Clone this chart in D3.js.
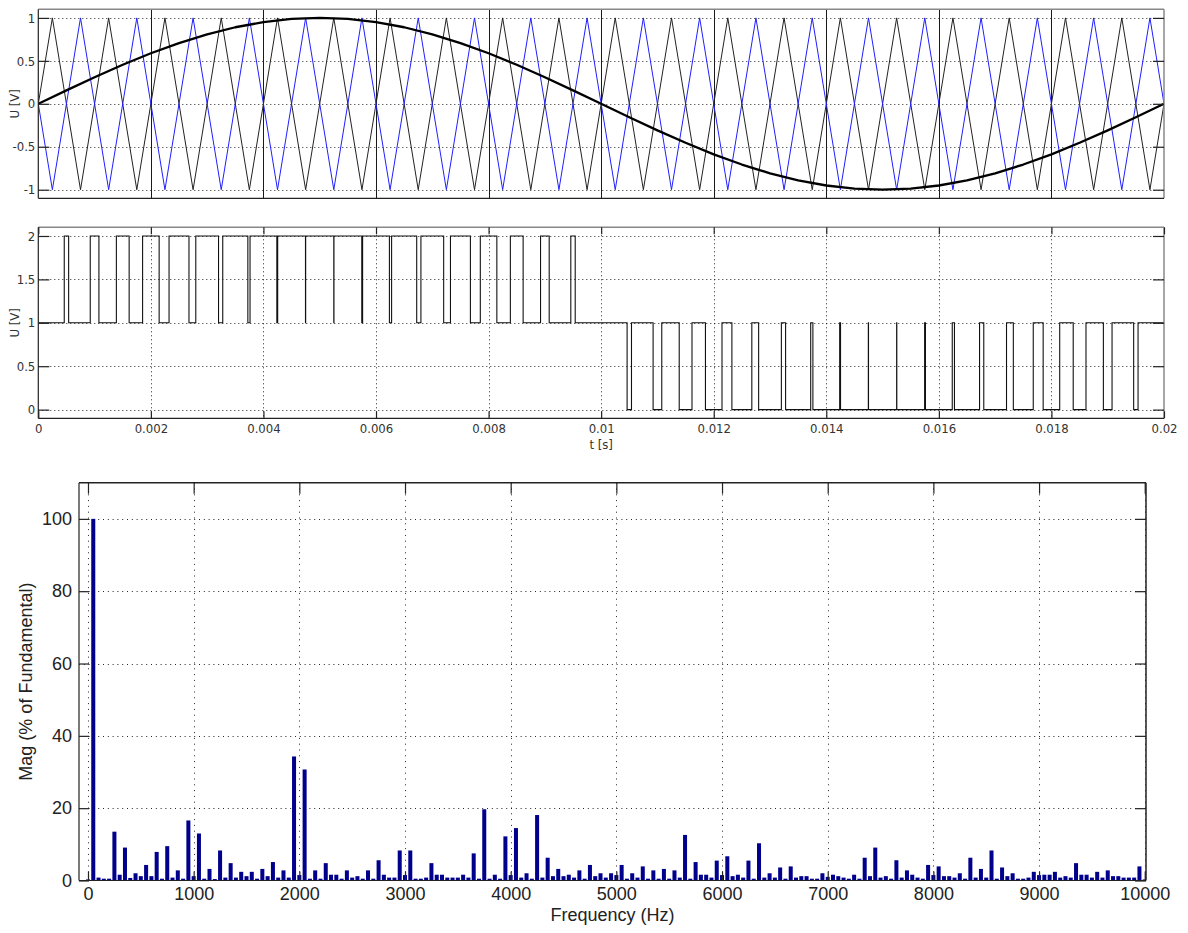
<!DOCTYPE html>
<html>
<head>
<meta charset="utf-8">
<script src="https://cdn.jsdelivr.net/npm/d3@7"></script>
<style>
  body { margin: 0; background: #fff; }
  svg { display: block; }
  .sm text { font-family: "Liberation Sans Narrow", "Arial Narrow", "DejaVu Sans Condensed", sans-serif; font-size: 13px; fill: #333; }
  .lg text { font-family: "Liberation Sans", Arial, Helvetica, sans-serif; font-size: 18px; fill: #222; }
</style>
</head>
<body>
<svg id="chart" width="1188" height="933"></svg>
<script>
// ---------- time-domain data (one period of 50 Hz, 1 kHz carriers) ----------
const timeLimits = [0, 0.02];
const timeTicks = [0, 0.002, 0.004, 0.006, 0.008, 0.01, 0.012, 0.014, 0.016, 0.018, 0.02];
const timeTickLabels = ["0", "0.002", "0.004", "0.006", "0.008", "0.01", "0.012", "0.014", "0.016", "0.018", "0.02"];

// reference signal samples
const sineTimes = [0, 0.0005, 0.001, 0.0015, 0.002, 0.0025, 0.003, 0.0035, 0.004, 0.0045,
  0.005, 0.0055, 0.006, 0.0065, 0.007, 0.0075, 0.008, 0.0085, 0.009, 0.0095,
  0.01, 0.0105, 0.011, 0.0115, 0.012, 0.0125, 0.013, 0.0135, 0.014, 0.0145,
  0.015, 0.0155, 0.016, 0.0165, 0.017, 0.0175, 0.018, 0.0185, 0.019, 0.0195, 0.02];
const sineValues = [0, 0.156, 0.309, 0.454, 0.588, 0.707, 0.809, 0.891, 0.951, 0.988,
  1, 0.988, 0.951, 0.891, 0.809, 0.707, 0.588, 0.454, 0.309, 0.156,
  0, -0.156, -0.309, -0.454, -0.588, -0.707, -0.809, -0.891, -0.951, -0.988,
  -1, -0.988, -0.951, -0.891, -0.809, -0.707, -0.588, -0.454, -0.309, -0.156, 0];

// triangular carriers: vertex times and levels
const carrierTimes = [0, 0.00025, 0.00075, 0.00125, 0.00175, 0.00225, 0.00275, 0.00325, 0.00375, 0.00425,
  0.00475, 0.00525, 0.00575, 0.00625, 0.00675, 0.00725, 0.00775, 0.00825, 0.00875, 0.00925,
  0.00975, 0.01025, 0.01075, 0.01125, 0.01175, 0.01225, 0.01275, 0.01325, 0.01375, 0.01425,
  0.01475, 0.01525, 0.01575, 0.01625, 0.01675, 0.01725, 0.01775, 0.01825, 0.01875, 0.01925,
  0.01975, 0.02];
const carrierBlack = [0, 1, -1, 1, -1, 1, -1, 1, -1, 1, -1, 1, -1, 1, -1, 1, -1, 1, -1, 1, -1,
  1, -1, 1, -1, 1, -1, 1, -1, 1, -1, 1, -1, 1, -1, 1, -1, 1, -1, 1, -1, 0];
const carrierBlue = [0, -1, 1, -1, 1, -1, 1, -1, 1, -1, 1, -1, 1, -1, 1, -1, 1, -1, 1, -1, 1,
  -1, 1, -1, 1, -1, 1, -1, 1, -1, 1, -1, 1, -1, 1, -1, 1, -1, 1, -1, 1, 0];

// inverter output: pulses away from the mid level 1 V
const outputBase = 1;
const pulseStart = [0.000461, 0.000923, 0.001387, 0.001853, 0.002323, 0.002798, 0.003277, 0.003762, 0.004253, 0.00475,
  0.005253, 0.005762, 0.006277, 0.006798, 0.007323, 0.007853, 0.008387, 0.008923, 0.009461,
  0.010461, 0.010923, 0.011387, 0.011853, 0.012323, 0.012798, 0.013277, 0.013762, 0.014253, 0.01475,
  0.015253, 0.015762, 0.016277, 0.016798, 0.017323, 0.017853, 0.018387, 0.018923, 0.019461];
const pulseEnd = [0.000539, 0.001077, 0.001614, 0.002147, 0.002677, 0.003202, 0.003723, 0.004238, 0.004747, 0.00525,
  0.005747, 0.006238, 0.006723, 0.007202, 0.007677, 0.008147, 0.008614, 0.009077, 0.009539,
  0.010539, 0.011077, 0.011614, 0.012147, 0.012677, 0.013202, 0.013723, 0.014238, 0.014747, 0.01525,
  0.015747, 0.016238, 0.016723, 0.017202, 0.017677, 0.018147, 0.018614, 0.019077, 0.019539];
const pulseLevel = [2, 2, 2, 2, 2, 2, 2, 2, 2, 2, 2, 2, 2, 2, 2, 2, 2, 2, 2,
  0, 0, 0, 0, 0, 0, 0, 0, 0, 0, 0, 0, 0, 0, 0, 0, 0, 0, 0];

const topTicks = [-1, -0.5, 0, 0.5, 1];
const midTicks = [0, 0.5, 1, 1.5, 2];

// ---------- harmonic spectrum (50 Hz steps, 0 .. 10 kHz) ----------
const harmonicStep = 50;
const magnitudes = [
  0.3, 100, 0.8, 0.5, 0.5, 13.5, 1.6, 9.1, 0.7, 2.0,
  1.2, 4.3, 1.2, 7.9, 0.5, 9.5, 0.8, 2.8, 0.5, 16.6,
  1.2, 13.0, 0.5, 3.2, 0.4, 8.3, 0.8, 4.8, 0.8, 2.4,
  1.2, 2.4, 0.5, 3.2, 1.2, 5.1, 0.8, 2.8, 0.8, 34.3,
  1.5, 30.7, 0.5, 2.8, 0.5, 4.8, 1.6, 1.6, 0.5, 2.8,
  0.8, 1.2, 0.5, 2.8, 0.5, 5.6, 1.6, 0.8, 0.8, 8.3,
  1.5, 8.3, 0.5, 0.5, 0.8, 4.8, 1.6, 1.6, 0.8, 0.8,
  0.8, 1.6, 0.8, 7.5, 0.5, 19.7, 0.5, 1.6, 0.5, 12.2,
  1.5, 14.5, 0.8, 2.0, 0.5, 18.1, 0.8, 6.3, 1.2, 3.2,
  1.2, 1.6, 0.8, 2.8, 0.5, 4.3, 1.2, 2.0, 0.8, 2.0,
  1.5, 4.3, 0.5, 2.0, 0.8, 3.9, 0.5, 2.8, 0.5, 3.2,
  0.5, 2.8, 0.8, 12.6, 0.5, 5.1, 1.6, 1.6, 0.8, 5.5,
  1.5, 6.7, 1.2, 1.6, 0.8, 5.5, 0.5, 10.3, 0.8, 2.0,
  0.8, 3.6, 0.5, 3.9, 0.8, 1.2, 1.2, 0.5, 0.5, 2.0,
  1.0, 1.6, 1.2, 0.8, 0.5, 1.6, 0.5, 6.3, 1.2, 9.1,
  0.8, 1.2, 0.5, 5.6, 0.8, 2.8, 1.6, 0.8, 0.5, 4.3,
  1.5, 3.9, 1.2, 1.2, 0.8, 2.0, 0.5, 6.3, 0.8, 3.2,
  0.8, 8.3, 0.5, 3.6, 1.2, 2.0, 0.5, 0.5, 0.8, 2.4,
  1.5, 1.6, 1.6, 2.4, 0.8, 1.2, 0.8, 4.8, 1.6, 1.6,
  0.8, 2.4, 0.8, 2.8, 1.2, 1.2, 0.8, 0.8, 0.8, 3.9,
  0.3];
const freqTicks = [0, 1000, 2000, 3000, 4000, 5000, 6000, 7000, 8000, 9000, 10000];
const magTicks = [0, 20, 40, 60, 80, 100];

// ---------- layout ----------
const P1 = { l: 38.3, r: 1164, t: 9.3, b: 198.3 };
const P2 = { l: 38.3, r: 1164, t: 227.3, b: 418.3 };
const P3 = { l: 79, r: 1146, t: 482.7, b: 880.5 };

const svg = d3.select("#chart");
const defs = svg.append("defs");
[["c1", P1], ["c2", P2], ["c3", P3]].forEach(([id, p]) => {
  defs.append("clipPath").attr("id", id).append("rect")
    .attr("x", p.l).attr("y", p.t).attr("width", p.r - p.l).attr("height", p.b - p.t);
});

const x1 = d3.scaleLinear().domain(timeLimits).range([P1.l, P1.r]);
const y1 = d3.scaleLinear().domain([-1.1, 1.1]).range([P1.b, P1.t]);
const x2 = d3.scaleLinear().domain(timeLimits).range([P2.l, P2.r]);
const y2 = d3.scaleLinear().domain([-0.1, 2.1]).range([P2.b, P2.t]);
const xF = d3.scaleLinear().domain([-85, 10012]).range([P3.l, P3.r]);
const yM = d3.scaleLinear().domain([0, 110]).range([P3.b, P3.t]);

function frame(p, light) {
  const g = svg.append("g").attr("fill", "none");
  g.append("line").attr("x1", p.l).attr("x2", p.r).attr("y1", p.t).attr("y2", p.t)
    .attr("stroke", light).attr("stroke-width", 1.5);
  g.append("line").attr("x1", p.r).attr("x2", p.r).attr("y1", p.t).attr("y2", p.b)
    .attr("stroke", light).attr("stroke-width", 1.5);
  g.append("line").attr("x1", p.l).attr("x2", p.r).attr("y1", p.b).attr("y2", p.b)
    .attr("stroke", "#222").attr("stroke-width", 1.2);
  g.append("line").attr("x1", p.l).attr("x2", p.l).attr("y1", p.t).attr("y2", p.b)
    .attr("stroke", "#222").attr("stroke-width", 1.2);
}

function hGrid(p, yS, vals, dash) {
  svg.append("g").selectAll("line").data(vals).join("line")
    .attr("x1", p.l).attr("x2", p.r)
    .attr("y1", d => Math.round(yS(d)) + 0.5).attr("y2", d => Math.round(yS(d)) + 0.5)
    .attr("stroke", "#000").attr("stroke-width", 1).attr("stroke-dasharray", dash)
    .attr("opacity", 0.85);
}
function vGrid(p, xS, vals, dash) {
  svg.append("g").selectAll("line").data(vals).join("line")
    .attr("x1", d => Math.round(xS(d)) + 0.5).attr("x2", d => Math.round(xS(d)) + 0.5)
    .attr("y1", p.t).attr("y2", p.b)
    .attr("stroke", "#000").attr("stroke-width", 1).attr("stroke-dasharray", dash)
    .attr("opacity", 0.85);
}
function cleanAxis(g) {
  g.select(".domain").remove();
  g.selectAll(".tick line").attr("stroke", "#222").attr("stroke-width", 1.2);
}

// ================= panel 1: carriers and reference =================
hGrid(P1, y1, topTicks.filter(d => d !== -1.1), "1,3");
svg.append("g").selectAll("line").data(timeTicks.slice(1, -1)).join("line")
  .attr("x1", d => Math.round(x1(d)) + 0.5).attr("x2", d => Math.round(x1(d)) + 0.5)
  .attr("y1", P1.t).attr("y2", P1.b)
  .attr("stroke", "#1a1a1a").attr("stroke-width", 1);

const g1 = svg.append("g").attr("clip-path", "url(#c1)");
const carrierLine = d3.line().x((d, i) => x1(carrierTimes[i])).y(d => y1(d));
g1.append("path").attr("d", carrierLine(carrierBlack))
  .attr("fill", "none").attr("stroke", "#222").attr("stroke-width", 1);
g1.append("path").attr("d", carrierLine(carrierBlue))
  .attr("fill", "none").attr("stroke", "#1f1fff").attr("stroke-width", 1);
const sineLine = d3.line().x((d, i) => x1(sineTimes[i])).y(d => y1(d));
g1.append("path").attr("d", sineLine(sineValues))
  .attr("fill", "none").attr("stroke", "#000").attr("stroke-width", 2.3)
  .attr("stroke-linejoin", "round");

frame(P1, "#888");
const ax1 = svg.append("g").attr("class", "sm").attr("transform", `translate(${P1.l},0)`)
  .call(d3.axisLeft(y1).tickValues(topTicks).tickSize(-11).tickPadding(3).tickFormat(d => String(d)));
cleanAxis(ax1);
const ax1r = svg.append("g").attr("transform", `translate(${P1.r},0)`)
  .call(d3.axisRight(y1).tickValues(topTicks).tickSize(-11).tickFormat(""));
cleanAxis(ax1r);
svg.append("g").attr("class", "sm").append("text")
  .attr("transform", `translate(19,${(P1.t + P1.b) / 2}) rotate(-90)`)
  .attr("text-anchor", "middle").text("U [V]");

// ================= panel 2: inverter output voltage =================
hGrid(P2, y2, midTicks, "1,3");
vGrid(P2, x2, timeTicks.slice(1, -1), "1,3");

const steps = [[timeLimits[0], outputBase]];
pulseStart.forEach((s, i) => {
  steps.push([s, outputBase], [s, pulseLevel[i]], [pulseEnd[i], pulseLevel[i]], [pulseEnd[i], outputBase]);
});
steps.push([timeLimits[1], outputBase]);
svg.append("g").attr("clip-path", "url(#c2)").append("path")
  .attr("d", d3.line().x(d => x2(d[0])).y(d => y2(d[1]))(steps))
  .attr("fill", "none").attr("stroke", "#111").attr("stroke-width", 1.1);

frame(P2, "#888");
const ax2 = svg.append("g").attr("class", "sm").attr("transform", `translate(${P2.l},0)`)
  .call(d3.axisLeft(y2).tickValues(midTicks).tickSize(-11).tickPadding(3).tickFormat(d => String(d)));
cleanAxis(ax2);
const ax2r = svg.append("g").attr("transform", `translate(${P2.r},0)`)
  .call(d3.axisRight(y2).tickValues(midTicks).tickSize(-11).tickFormat(""));
cleanAxis(ax2r);
const ax2b = svg.append("g").attr("class", "sm").attr("transform", `translate(0,${P2.b})`)
  .call(d3.axisBottom(x2).tickValues(timeTicks).tickSize(-7).tickPadding(5)
    .tickFormat((d, i) => timeTickLabels[i]));
cleanAxis(ax2b);
const ax2t = svg.append("g").attr("transform", `translate(0,${P2.t})`)
  .call(d3.axisTop(x2).tickValues(timeTicks).tickSize(-7).tickFormat(""));
cleanAxis(ax2t);
svg.append("g").attr("class", "sm").append("text")
  .attr("transform", `translate(19,${(P2.t + P2.b) / 2}) rotate(-90)`)
  .attr("text-anchor", "middle").text("U [V]");
svg.append("g").attr("class", "sm").append("text")
  .attr("x", (P2.l + P2.r) / 2).attr("y", 449).attr("text-anchor", "middle").text("t [s]");

// ================= panel 3: harmonic spectrum =================
hGrid(P3, yM, magTicks.slice(1), "1,3.8");
vGrid(P3, xF, freqTicks, "1,4.8");

const barHalf = 19;
svg.append("g").attr("clip-path", "url(#c3)").selectAll("rect").data(magnitudes).join("rect")
  .attr("x", (d, i) => xF(i * harmonicStep - barHalf))
  .attr("width", (d, i) => xF(i * harmonicStep + barHalf) - xF(i * harmonicStep - barHalf))
  .attr("y", d => yM(d))
  .attr("height", d => yM(0) - yM(d))
  .attr("fill", "#00008c");

frame(P3, "#222");
const ax3 = svg.append("g").attr("class", "lg").attr("transform", `translate(${P3.l},0)`)
  .call(d3.axisLeft(yM).tickValues(magTicks).tickSize(-10).tickPadding(7).tickFormat(d => String(d)));
cleanAxis(ax3);
const ax3r = svg.append("g").attr("transform", `translate(${P3.r},0)`)
  .call(d3.axisRight(yM).tickValues(magTicks).tickSize(-11).tickFormat(""));
cleanAxis(ax3r);
const ax3b = svg.append("g").attr("class", "lg").attr("transform", `translate(0,${P3.b})`)
  .call(d3.axisBottom(xF).tickValues(freqTicks).tickSize(-9).tickPadding(7).tickFormat(d => String(d)));
cleanAxis(ax3b);
const ax3t = svg.append("g").attr("transform", `translate(0,${P3.t})`)
  .call(d3.axisTop(xF).tickValues(freqTicks).tickSize(-11).tickFormat(""));
cleanAxis(ax3t);
svg.append("g").attr("class", "lg").append("text")
  .attr("transform", `translate(32,${(P3.t + P3.b) / 2}) rotate(-90)`)
  .attr("text-anchor", "middle").text("Mag (% of Fundamental)");
svg.append("g").attr("class", "lg").append("text")
  .attr("x", (P3.l + P3.r) / 2).attr("y", 921).attr("text-anchor", "middle").text("Frequency (Hz)");
</script>
</body>
</html>
